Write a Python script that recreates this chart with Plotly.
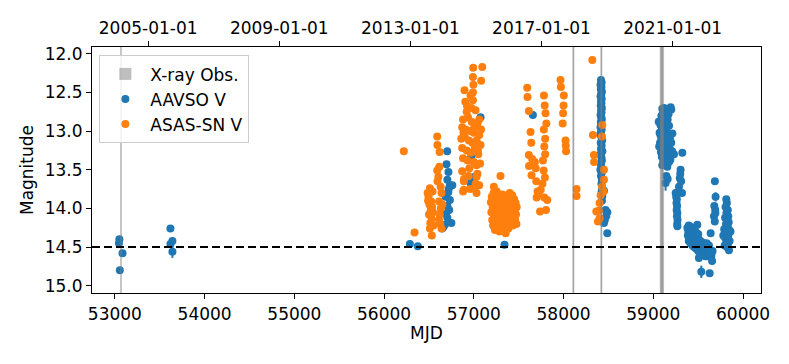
import plotly.graph_objects as go

# ASAS-SN V light curve (MJD, magnitude)
asassn_mjd = [
    56220, 56339, 56532,
    # 2013 rise
    56485, 56510, 56540, 56495, 56525, 56505, 56520, 56545, 56500, 56530, 56515, 56510, 56550, 56490, 56535,
    56592, 56594, 56618, 56615, 56592, 56605, 56595, 56630, 56640, 56612, 56632, 56620, 56612, 56640, 56625, 56650,
    # 2014 bright season
    56993, 57094, 57082, 56990, 56995, 56896, 56963, 56905, 56990, 56920, 57019, 56880, 56935, 56975, 57040,
    56870, 56910, 56960, 57000, 57060, 56860, 56900, 56945, 56985, 57030, 57075, 56870, 56920, 56965, 57010,
    57050, 56880, 56930, 57000, 57070, 56870, 56950, 57040, 56890, 57020, 57060, 56880, 56960, 57030, 56925,
    57005, 56940, 57080, 56885, 56975, 57045, 56990, 57060, 56889, 56889, 57030, 57030, 57008,
    # 2015 faint season
    57190, 57195, 57200, 57205, 57210, 57215, 57220, 57225, 57230, 57235, 57240, 57245, 57250, 57255, 57260,
    57265, 57270, 57275, 57280, 57285, 57290, 57295, 57297, 57300, 57305, 57310, 57315, 57320, 57325, 57330,
    57335, 57340, 57345, 57350, 57355, 57360, 57365, 57370, 57375, 57380, 57385, 57390, 57395, 57400, 57405,
    57410, 57415, 57420, 57425, 57430, 57435, 57440, 57445, 57450, 57455, 57460, 57465, 57470, 57478, 57475,
    57223, 57428,
    # 2016 season
    57595, 57598, 57613, 57632, 57640, 57613, 57650, 57615, 57680, 57690, 57643, 57696, 57710, 57700, 57738, 57804,
    57781, 57790, 57799, 57808, 57780, 57795, 57785, 57795, 57770, 57778, 57792, 57765, 57745, 57720, 57785, 57818,
    57966, 57970, 58003, 58000, 57995, 57990, 58022, 58025, 58028,
    58145, 58145,
    # 2018 season
    58320, 58327, 58338, 58340, 58431, 58428, 58450, 58450, 58428, 58445, 58413, 58401, 58394, 58365, 58401, 58383,
]
asassn_mag = [
    13.26, 14.31, 14.35,
    13.80, 13.74, 13.78, 13.85, 13.91, 13.95, 14.02, 14.05, 14.08, 14.13, 14.19, 14.26, 14.22, 13.90, 13.98,
    13.07, 13.18, 13.27, 13.46, 13.51, 13.59, 13.65, 13.72, 13.80, 13.91, 14.00, 14.08, 14.15, 14.26, 14.20, 13.95,
    12.18, 12.17, 12.35, 12.30, 12.40, 12.47, 12.54, 12.62, 12.60, 12.75, 12.73, 12.85, 12.82, 12.88, 12.90,
    12.95, 12.98, 13.00, 13.02, 13.05, 13.10, 13.08, 13.12, 13.15, 13.12, 13.18, 13.22, 13.25, 13.28, 13.22,
    13.30, 13.35, 13.38, 13.40, 13.42, 13.52, 13.48, 13.55, 13.62, 13.68, 13.70, 13.78, 13.75, 13.80, 12.68,
    12.95, 13.58, 12.98, 13.02, 12.70, 13.25, 12.50, 12.85, 13.65, 13.76, 13.44, 13.59, 13.74,
    13.92, 14.05, 13.85, 14.15, 13.98, 14.22, 13.80, 14.08, 13.95, 14.28, 13.88, 14.12, 14.02, 13.78, 14.18,
    13.93, 14.25, 14.05, 13.85, 14.30, 13.97, 14.10, 13.58, 14.20, 13.90, 14.03, 14.27, 13.82, 14.15, 13.96,
    14.08, 14.22, 13.88, 14.00, 14.32, 14.12, 13.92, 14.05, 14.18, 13.85, 14.26, 13.98, 14.10, 13.80, 14.20,
    14.02, 13.90, 14.14, 13.84, 14.05, 14.22, 13.95, 14.10, 13.88, 14.02, 14.15, 13.93, 14.08, 13.98, 14.20,
    13.72, 13.83,
    12.44, 12.56, 12.74, 13.01, 13.15, 13.31, 13.36, 13.45, 13.40, 13.48, 13.57, 13.65, 13.78, 13.86, 14.04, 14.02,
    12.54, 12.67, 12.77, 12.90, 12.98, 13.10, 13.20, 13.30, 13.38, 13.51, 13.60, 13.68, 13.76, 13.82, 13.86, 13.89,
    12.34, 12.43, 12.54, 12.67, 12.77, 12.90, 13.12, 13.19, 13.26,
    13.75, 13.84,
    12.08, 13.05, 13.31, 13.40, 12.92, 13.07, 13.50, 13.63, 13.72, 13.78, 13.83, 13.93, 14.03, 14.04, 14.13, 14.17,
]

# AAVSO V light curve (MJD, magnitude)
aavso_mjd = [
    53050, 53045, 53085, 53055, 53619, 53619,
    56287, 56376,
    56703, 56695, 56717, 56705, 56733, 56760, 56715, 56685, 56733, 56705, 56725, 56690, 56705, 56677, 56648,
    56750, 56660, 56720,
    57075, 56971, 56963, 57011, 57342, 57658,
    # 2018 season
    58417, 58424, 58412, 58422, 58415, 58427, 58419, 58412, 58425, 58417, 58422, 58414, 58427, 58418, 58423,
    58412, 58420, 58426, 58416, 58422, 58412, 58424, 58418, 58410, 58422, 58430, 58414, 58424, 58417, 58432,
    58412, 58422, 58427, 58414, 58420, 58410, 58424, 58417, 58427, 58422, 58430, 58424, 58432, 58428, 58450,
    58468, 58487, 58460, 58450, 58475, 58487,
    # 2020 season
    59100, 59120, 59193, 59200, 59110, 59140, 59170, 59090, 59130, 59160, 59105, 59150, 59080, 59125, 59175,
    59095, 59145, 59212, 59070, 59115, 59165, 59090, 59135, 59185, 59075, 59120, 59160, 59200, 59100, 59140,
    59180, 59085, 59125, 59170, 59210, 59095, 59150, 59110, 59190, 59130, 59156, 59100, 59175, 59080, 59060,
    59065, 59230,
    59323, 59145, 59160, 59304, 59300, 59295, 59286, 59249, 59255, 59262, 59258, 59265, 59260, 59268, 59263,
    59270, 59266, 59268, 59310, 59320,
    # 2021 season
    59380, 59385, 59390, 59395, 59400, 59405, 59410, 59415, 59420, 59425, 59430, 59435, 59440, 59445, 59450,
    59455, 59460, 59465, 59470, 59475, 59480, 59485, 59490, 59495, 59500, 59505, 59510, 59515, 59520, 59525,
    59530, 59540, 59545, 59550, 59555, 59560, 59565, 59570, 59575, 59580, 59585, 59590, 59595, 59600, 59605,
    59610, 59615, 59620, 59628, 59630, 59635, 59639, 59645, 59650, 59655, 59660, 59395, 59420, 59440, 59470,
    59500,
    59680, 59690, 59676, 59685, 59692,
    # 2022 season
    59813, 59820, 59805, 59830, 59815, 59835, 59800, 59825, 59840, 59810, 59830, 59790, 59845, 59815, 59835,
    59800, 59825, 59850, 59810, 59830, 59795, 59843, 59820, 59780, 59860,
]
aavso_mag = [
    14.40, 14.45, 14.58, 14.80, 14.26, 14.46,
    14.46, 14.49,
    13.26, 13.43, 13.53, 13.63, 13.70, 13.70, 13.79, 13.85, 13.89, 13.97, 14.02, 14.07, 14.12, 14.21, 14.26,
    14.19, 14.24, 13.75,
    12.82, 13.33, 13.67, 13.59, 14.47, 12.79,
    12.34, 12.37, 12.40, 12.43, 12.46, 12.49, 12.52, 12.55, 12.58, 12.61, 12.64, 12.67, 12.70, 12.73, 12.76,
    12.79, 12.82, 12.85, 12.88, 12.91, 12.95, 12.98, 13.01, 13.04, 13.08, 13.12, 13.15, 13.19, 13.23, 13.26,
    13.30, 13.34, 13.38, 13.42, 13.46, 13.50, 13.54, 13.58, 13.63, 13.68, 13.73, 13.78, 13.84, 13.90, 13.77,
    14.02, 14.05, 14.15, 14.19, 14.10, 14.32,
    12.71, 12.70, 12.69, 12.72, 12.75, 12.74, 12.78, 12.80, 12.82, 12.85, 12.87, 12.90, 12.92, 12.95, 12.93,
    12.98, 13.00, 13.03, 13.02, 13.05, 13.07, 13.10, 13.12, 13.10, 13.15, 13.17, 13.19, 13.15, 13.22, 13.24,
    13.22, 13.27, 13.29, 13.30, 13.26, 13.33, 13.35, 13.38, 13.37, 13.42, 13.46, 13.44, 13.40, 13.05, 12.88,
    13.20, 13.30,
    13.28, 13.58, 13.62, 13.50, 13.55, 13.61, 13.72, 13.80, 13.85, 13.88, 13.93, 13.97, 14.02, 14.06, 14.10,
    14.15, 14.20, 14.23, 13.65, 13.80,
    14.25, 14.35, 14.30, 14.42, 14.28, 14.38, 14.33, 14.45, 14.30, 14.40, 14.36, 14.48, 14.32, 14.42, 14.38,
    14.50, 14.35, 14.45, 14.40, 14.52, 14.38, 14.47, 14.21, 14.43, 14.55, 14.40, 14.50, 14.45, 14.57, 14.42,
    14.52, 14.48, 14.58, 14.44, 14.54, 14.50, 14.60, 14.47, 14.55, 14.62, 14.50, 14.58, 14.45, 14.55, 14.62,
    14.52, 14.58, 14.48, 14.84, 14.60, 14.55, 14.32, 14.62, 14.58, 14.68, 14.55, 14.22, 14.24, 14.26, 14.30,
    14.33,
    13.97, 14.02, 14.10, 14.17, 14.06,
    13.88, 13.93, 13.98, 14.02, 14.06, 14.10, 14.12, 14.15, 14.18, 14.20, 14.24, 14.27, 14.28, 14.31, 14.35,
    14.38, 14.40, 14.42, 14.45, 14.47, 14.48, 14.54, 14.50, 14.35, 14.30,
]

# AAVSO points with visible error bars
aavso_err_mjd = [53641, 53641, 59137, 59508, 59535, 59686, 59694]
aavso_err_mag = [14.42, 14.56, 13.67, 14.64, 14.82, 13.65, 13.85]
aavso_err = [0.05, 0.08, 0.10, 0.05, 0.08, 0.04, 0.06]

# X-ray observation windows (MJD start, end)
xray_start = [53058, 58098, 58104, 58410, 58416, 59072, 59080, 59090, 59098]
xray_end = [53078, 58114, 58120, 58426, 58432, 59092, 59100, 59110, 59120]

quiescent_mag = 14.5

date_mjd = [53371, 54832, 56293, 57754, 59215]
date_text = ["2005-01-01", "2009-01-01", "2013-01-01", "2017-01-01", "2021-01-01"]

BLUE = "#1f77b4"
ORANGE = "#ff7f0e"
FONT = "DejaVu Sans"
FS = 17
XRANGE = [52745, 60200]

fig = go.Figure()

fig.add_trace(go.Scatter(
    x=aavso_mjd, y=aavso_mag, mode="markers", name="AAVSO V",
    legendgroup="aavso", legendrank=2,
    marker=dict(color=BLUE, size=8, line=dict(width=0)),
))
fig.add_trace(go.Scatter(
    x=aavso_err_mjd, y=aavso_err_mag, mode="markers", name="AAVSO V",
    legendgroup="aavso", showlegend=False,
    marker=dict(color=BLUE, size=8, line=dict(width=0)),
    error_y=dict(type="data", array=aavso_err, color=BLUE, thickness=2, width=0),
))
fig.add_trace(go.Scatter(
    x=asassn_mjd, y=asassn_mag, mode="markers", name="ASAS-SN V",
    legendrank=3,
    marker=dict(color=ORANGE, size=8, line=dict(width=0)),
))

for i, (x0, x1) in enumerate(zip(xray_start, xray_end)):
    fig.add_shape(
        type="rect", xref="x", yref="paper", x0=x0, x1=x1, y0=0, y1=1,
        fillcolor="gray", opacity=0.5, line=dict(width=0), layer="above",
        name="X-ray Obs.", showlegend=(i == 0), legendrank=1,
    )

fig.add_shape(
    type="line", xref="paper", yref="y", x0=0, x1=1, y0=quiescent_mag, y1=quiescent_mag,
    line=dict(color="black", width=2, dash="8px,4px"), layer="above",
)

axis_common = dict(
    showgrid=False, zeroline=False, showline=True, linecolor="black", linewidth=1.2,
    ticks="outside", ticklen=5, tickwidth=1.2, tickcolor="black",
    tickfont=dict(family=FONT, size=FS, color="black"),
)

fig.update_layout(
    width=789, height=364,
    margin=dict(l=92, r=28, t=47, b=71),
    plot_bgcolor="white", paper_bgcolor="white",
    font=dict(family=FONT, size=FS, color="black"),
    xaxis=dict(
        range=XRANGE, tickvals=[53000, 54000, 55000, 56000, 57000, 58000, 59000, 60000],
        tickformat="d",
        title=dict(text="MJD", font=dict(family=FONT, size=FS), standoff=2),
        **axis_common,
    ),
    xaxis2=dict(
        range=XRANGE, overlaying="x", side="top", anchor="y",
        tickvals=date_mjd, ticktext=date_text,
        **axis_common,
    ),
    yaxis=dict(
        range=[15.094, 11.912], tickvals=[12.0, 12.5, 13.0, 13.5, 14.0, 14.5, 15.0],
        tickformat=".1f", mirror=True,
        title=dict(text="Magnitude", font=dict(family=FONT, size=FS), standoff=6),
        **axis_common,
    ),
    legend=dict(
        x=0.011, y=0.966, xanchor="left", yanchor="top",
        bgcolor="rgba(255,255,255,0.8)", bordercolor="#cccccc", borderwidth=1,
        font=dict(family=FONT, size=FS), tracegroupgap=0, itemwidth=40,
    ),
)

# empty trace on the top axis so the date ticks are drawn
fig.add_trace(go.Scatter(x=[], y=[], xaxis="x2", showlegend=False, hoverinfo="skip"))

# drop the default body margin so the figure sits at the page origin
fig.write_html(
    "out.html",
    config={"displayModeBar": False},
    post_script="document.body.style.margin='0';",
)
